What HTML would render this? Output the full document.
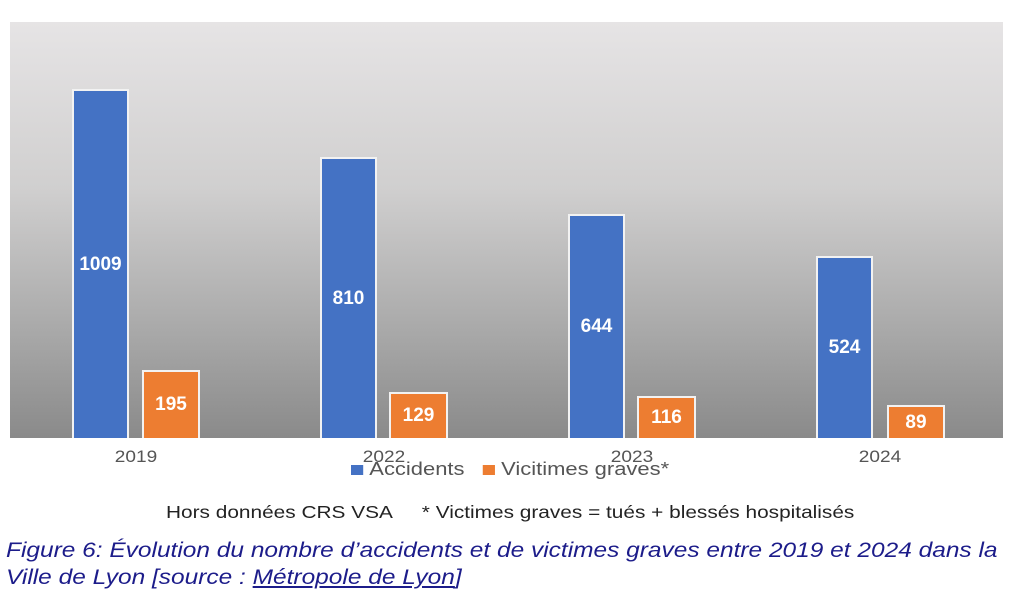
<!DOCTYPE html>
<html><head><meta charset="utf-8"><style>
body{margin:0;width:1024px;height:610px;background:#fff;position:relative;overflow:hidden;font-family:"Liberation Sans",sans-serif}
.plot{position:absolute;left:10px;top:22px;width:993px;height:416px;background:linear-gradient(#e6e4e5,#d0cfcf 40%,#a8a8a8 75%,#8a8a8a)}
.b{position:absolute;box-sizing:border-box;border:2px solid #f2f2f2;border-bottom:none;color:#fff;font-weight:bold;font-size:19px;display:flex;align-items:center;justify-content:center}
.bl{background:#4472c4}.or{background:#ed7d31}
.yr{position:absolute;top:447px;font-size:17px;color:#555;width:80px;text-align:center;transform:scaleX(1.12)}
.t{position:absolute;white-space:nowrap;transform-origin:0 0}
.cap{position:absolute;left:6px;font-style:italic;color:#1c1c8a;font-size:21.5px;white-space:nowrap;transform-origin:0 0;transform:scaleX(1.138)}
</style></head><body>
<div class="plot"></div>
<div class="b bl" style="left:72px;top:89px;width:57px;height:349px">1009</div>
<div class="b or" style="left:142px;top:370px;width:58px;height:68px">195</div>
<div class="b bl" style="left:320px;top:157px;width:57px;height:281px">810</div>
<div class="b or" style="left:389px;top:392px;width:59px;height:46px">129</div>
<div class="b bl" style="left:568px;top:214px;width:57px;height:224px">644</div>
<div class="b or" style="left:637px;top:396px;width:59px;height:42px">116</div>
<div class="b bl" style="left:816px;top:256px;width:57px;height:182px">524</div>
<div class="b or" style="left:887px;top:405px;width:58px;height:33px">89</div>
<div class="yr" style="left:96px">2019</div>
<div class="yr" style="left:344px">2022</div>
<div class="yr" style="left:592px">2023</div>
<div class="yr" style="left:840px">2024</div>
<div class="t" style="left:351px;top:459px;font-size:18px;color:#555;transform:scaleX(1.22)"><span style="display:inline-block;width:10px;height:10px;background:#4472c4;margin-right:5px"></span>Accidents&nbsp;&nbsp;&nbsp;<span style="display:inline-block;width:10px;height:10px;background:#ed7d31;margin-right:5px"></span>Vicitimes graves*</div>
<div class="t" style="left:166px;top:502px;font-size:17.5px;color:#222;transform:scaleX(1.19)">Hors données CRS VSA&nbsp;&nbsp;&nbsp;&nbsp;&nbsp;* Victimes graves = tués + blessés hospitalisés</div>
<div class="cap" style="top:538px">Figure 6: Évolution du nombre d’accidents et de victimes graves entre 2019 et 2024 dans la</div>
<div class="cap" style="top:565px">Ville de Lyon [source : <u>Métropole de Lyon</u>]</div>
</body></html>
